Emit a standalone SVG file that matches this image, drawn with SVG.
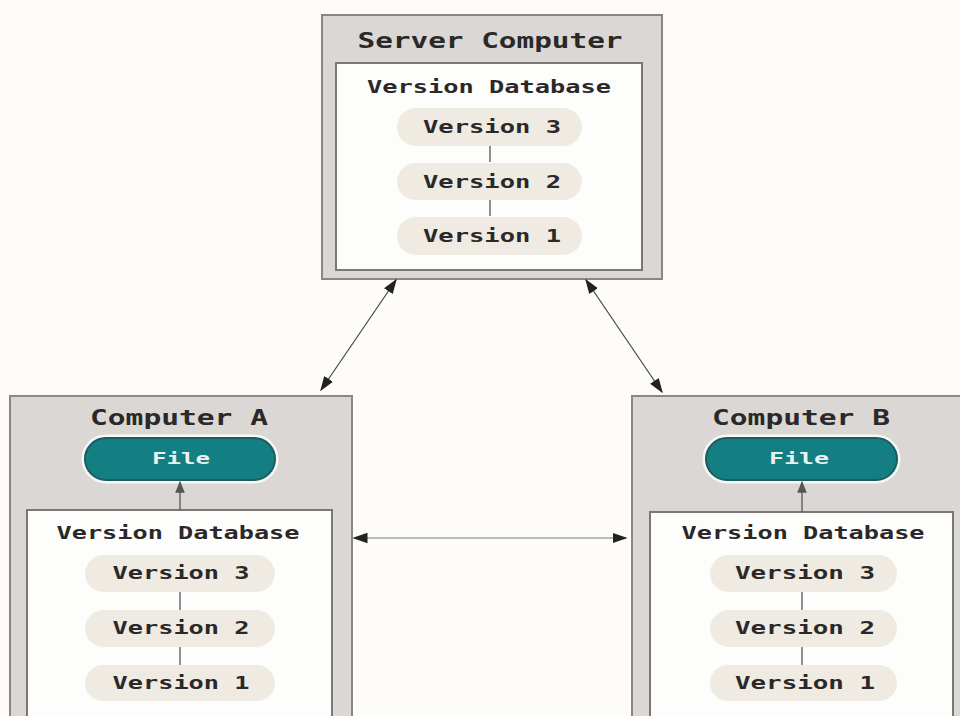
<svg xmlns="http://www.w3.org/2000/svg" width="960" height="716" viewBox="0 0 960 716">
<defs>
<style>
.outer{fill:#dbd7d4;stroke:#8a8886;stroke-width:2}
.inner{fill:#fdfdfb;stroke:#7a7876;stroke-width:2}
.pill{fill:#efebe2}
.file{fill:#137f82;stroke:#1d5c5e;stroke-width:2}
.halo{fill:none;stroke:#f4f8f6;stroke-width:3}
.t{font-family:"DejaVu Sans Mono","Liberation Mono",monospace;font-weight:bold;fill:#2a2828;text-anchor:middle}
.title{font-size:22px}
.db{font-size:18px}
.ver{font-size:18px}
.ft{font-size:15px;fill:#e8f2f0}
.link{stroke:#555;stroke-width:1.3}
.conn{stroke:#444;stroke-width:1.2;fill:none}
.thin{stroke:#bbb;stroke-width:2;fill:none}
</style>
<marker id="ah" viewBox="0 0 10 10" refX="9" refY="5" markerWidth="15" markerHeight="15" markerUnits="userSpaceOnUse" orient="auto-start-reverse">
<path d="M0,1.5 L10,5 L0,8.5 z" fill="#222"/>
</marker>
<marker id="up" viewBox="0 0 10 10" refX="9" refY="5" markerWidth="12" markerHeight="12" markerUnits="userSpaceOnUse" orient="auto">
<path d="M0,1 L10,5 L0,9 z" fill="#555"/>
</marker>
</defs>
<rect width="960" height="716" fill="#fdfcf8"/>

<g id="server">
<rect class="outer" x="322" y="15" width="340" height="264"/>
<text class="t title" x="490" y="48" textLength="265" lengthAdjust="spacingAndGlyphs">Server Computer</text>
<rect class="inner" x="336" y="63" width="306" height="207"/>
<text class="t db" x="489" y="93" textLength="244" lengthAdjust="spacingAndGlyphs">Version Database</text>
<line class="link" x1="490" y1="146" x2="490" y2="162"/>
<line class="link" x1="490" y1="200" x2="490" y2="216"/>
<rect class="pill" x="397" y="108" width="185" height="38" rx="19"/>
<text class="t ver" x="492" y="133" textLength="138" lengthAdjust="spacingAndGlyphs">Version 3</text>
<rect class="pill" x="397" y="163" width="185" height="37" rx="18.5"/>
<text class="t ver" x="492" y="188" textLength="138" lengthAdjust="spacingAndGlyphs">Version 2</text>
<rect class="pill" x="397" y="217" width="185" height="38" rx="19"/>
<text class="t ver" x="492" y="242" textLength="138" lengthAdjust="spacingAndGlyphs">Version 1</text>
</g>

<g id="computerA">
<rect class="outer" x="10" y="396" width="342" height="330"/>
<text class="t title" x="179" y="425" textLength="178" lengthAdjust="spacingAndGlyphs">Computer A</text>
<rect class="halo" x="83" y="436" width="194" height="46" rx="23"/>
<rect class="file" x="85" y="438" width="190" height="42" rx="21"/>
<text class="t ft" x="181" y="464" textLength="58" lengthAdjust="spacingAndGlyphs">File</text>
<rect class="inner" x="27" y="510" width="305" height="216"/>
<text class="t db" x="178" y="539" textLength="243" lengthAdjust="spacingAndGlyphs">Version Database</text>
<line class="link" x1="180" y1="592" x2="180" y2="610"/>
<line class="link" x1="180" y1="647" x2="180" y2="665"/>
<rect class="pill" x="85" y="555" width="190" height="37" rx="18.5"/>
<text class="t ver" x="181" y="579" textLength="137" lengthAdjust="spacingAndGlyphs">Version 3</text>
<rect class="pill" x="85" y="610" width="190" height="37" rx="18.5"/>
<text class="t ver" x="181" y="634" textLength="137" lengthAdjust="spacingAndGlyphs">Version 2</text>
<rect class="pill" x="85" y="665" width="190" height="36" rx="18"/>
<text class="t ver" x="181" y="689" textLength="137" lengthAdjust="spacingAndGlyphs">Version 1</text>
</g>

<g id="computerB">
<rect class="outer" x="632" y="396" width="340" height="330"/>
<text class="t title" x="801" y="425" textLength="178" lengthAdjust="spacingAndGlyphs">Computer B</text>
<rect class="halo" x="704" y="436" width="195" height="46" rx="23"/>
<rect class="file" x="706" y="438" width="191" height="42" rx="21"/>
<text class="t ft" x="799" y="464" textLength="60" lengthAdjust="spacingAndGlyphs">File</text>
<rect class="inner" x="650" y="512" width="303" height="214"/>
<text class="t db" x="803" y="539" textLength="243" lengthAdjust="spacingAndGlyphs">Version Database</text>
<line class="link" x1="802" y1="592" x2="802" y2="610"/>
<line class="link" x1="802" y1="647" x2="802" y2="665"/>
<rect class="pill" x="710" y="555" width="187" height="37" rx="18.5"/>
<text class="t ver" x="805" y="579" textLength="140" lengthAdjust="spacingAndGlyphs">Version 3</text>
<rect class="pill" x="710" y="610" width="187" height="37" rx="18.5"/>
<text class="t ver" x="805" y="634" textLength="140" lengthAdjust="spacingAndGlyphs">Version 2</text>
<rect class="pill" x="710" y="665" width="187" height="36" rx="18"/>
<text class="t ver" x="805" y="689" textLength="140" lengthAdjust="spacingAndGlyphs">Version 1</text>
</g>

<g id="connectors">
<line class="conn" x1="396" y1="280" x2="321" y2="390" marker-start="url(#ah)" marker-end="url(#ah)"/>
<line class="conn" x1="586" y1="280" x2="662" y2="392" marker-start="url(#ah)" marker-end="url(#ah)"/>
<line class="thin" x1="354" y1="538" x2="626" y2="538" marker-start="url(#ah)" marker-end="url(#ah)"/>
<line class="link" x1="180" y1="510" x2="180" y2="482" stroke-width="2" marker-end="url(#up)"/>
<line class="link" x1="802" y1="512" x2="802" y2="482" stroke-width="2" marker-end="url(#up)"/>
</g>
</svg>
